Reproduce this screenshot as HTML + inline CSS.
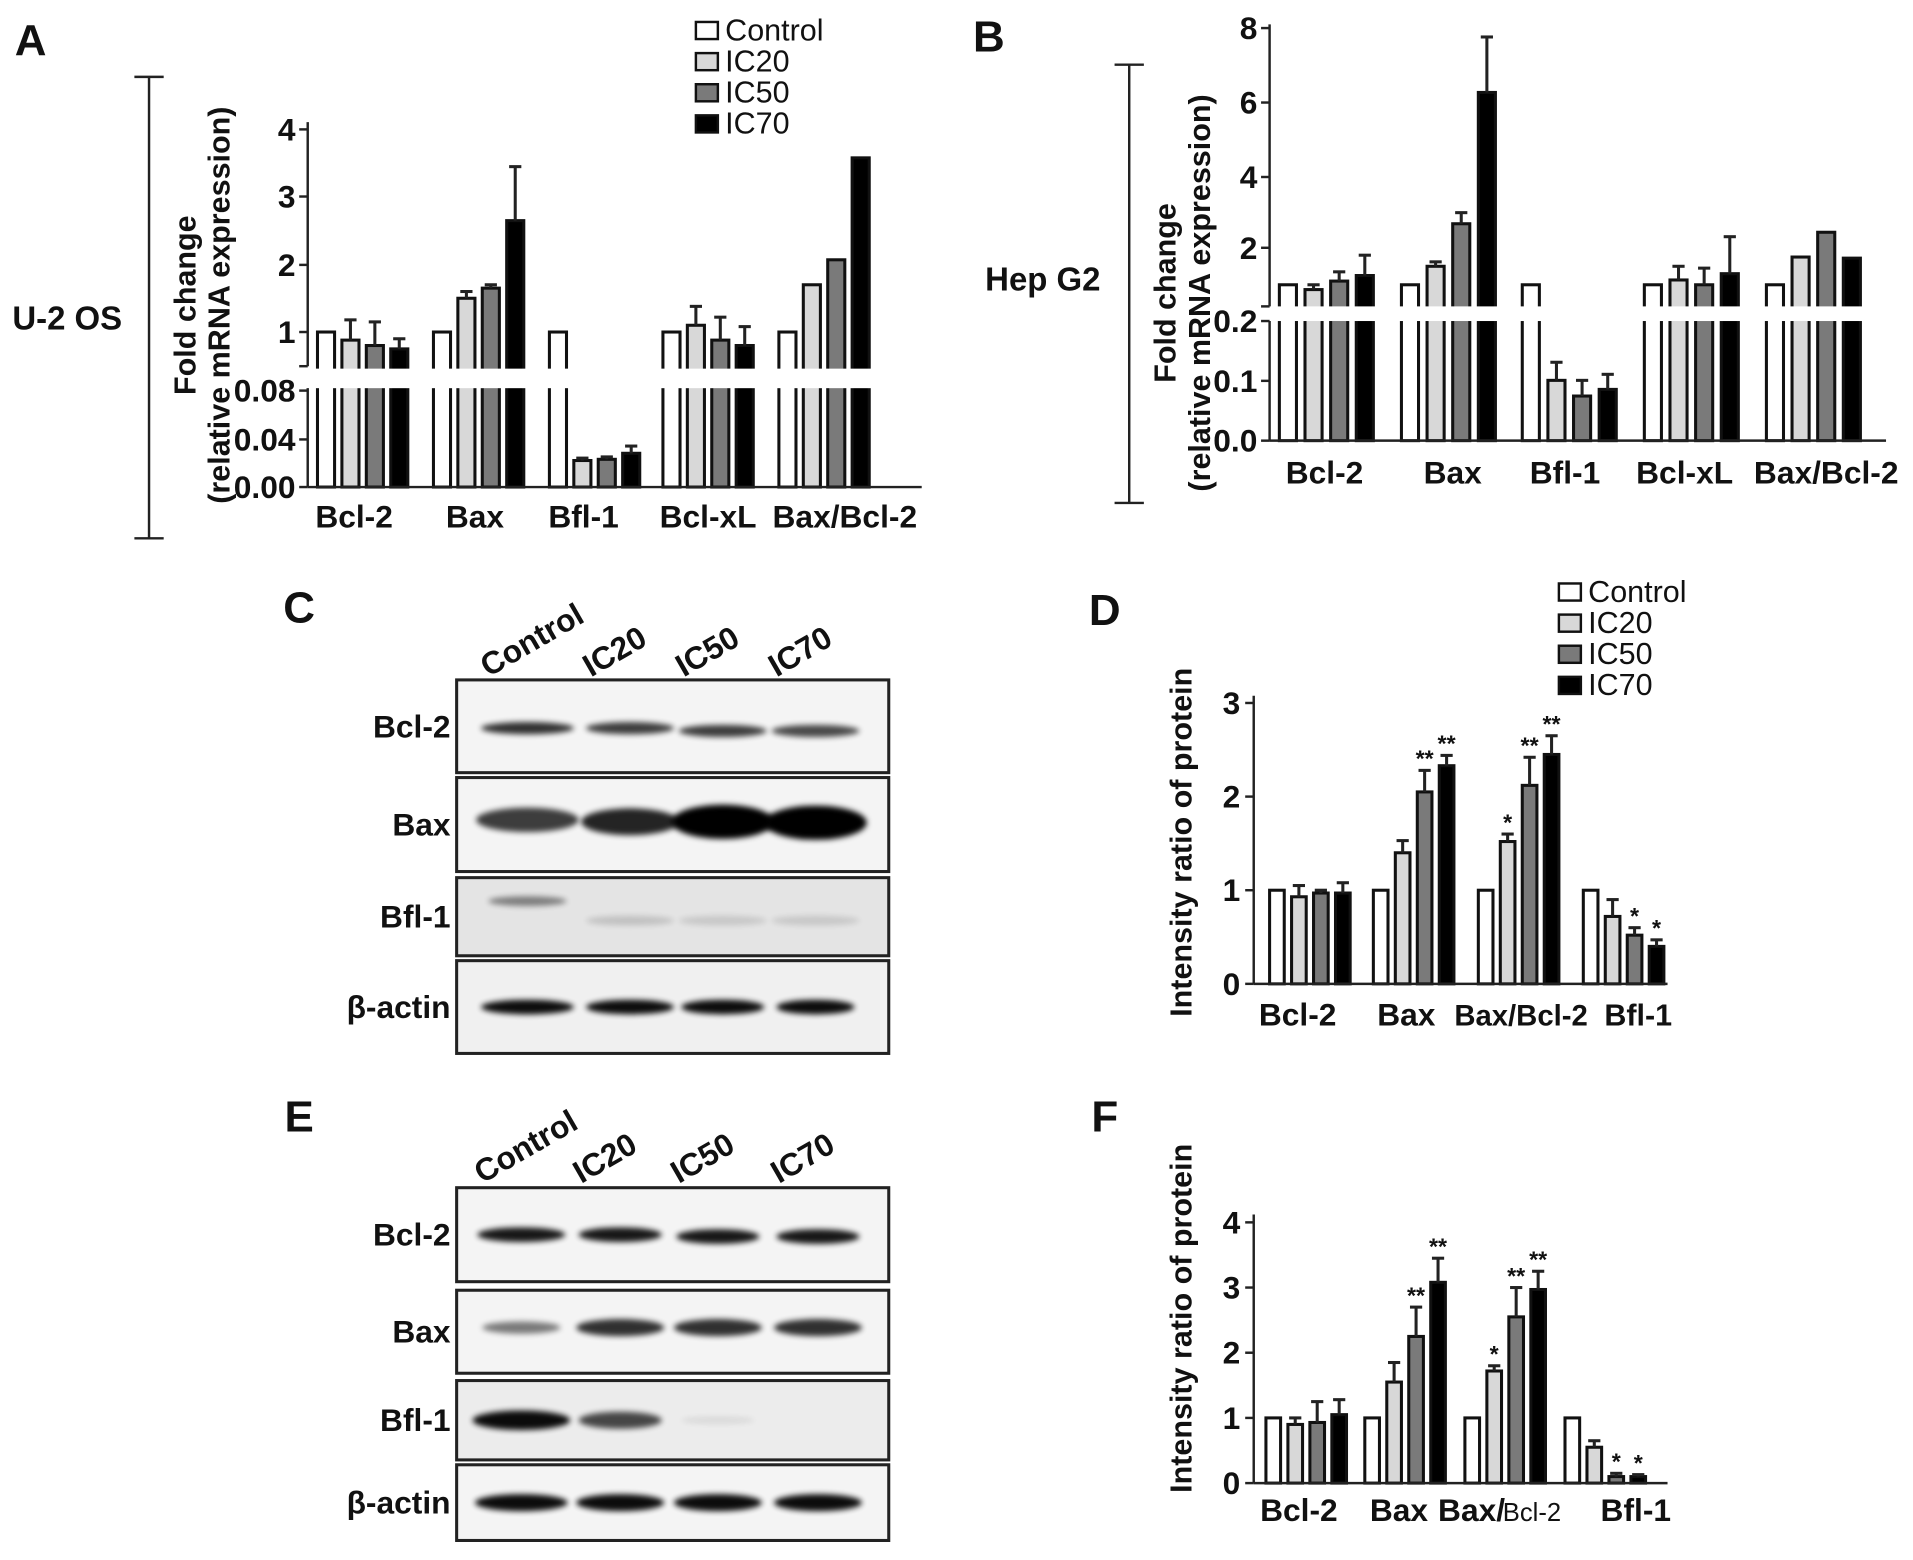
<!DOCTYPE html>
<html><head><meta charset="utf-8"><style>
html,body{margin:0;padding:0;background:#fff}
svg{display:block}
text{font-family:"Liberation Sans",Arial,sans-serif;font-weight:bold;fill:#111}
</style></head><body>
<svg id="s" xmlns="http://www.w3.org/2000/svg" width="1913" height="1560" viewBox="0 0 1567 1278">
<defs>
<filter id="bl" x="-30%" y="-150%" width="160%" height="400%"><feGaussianBlur stdDeviation="2.5"/></filter>
</defs>
</svg>
<script>
var S=document.getElementById('s'),NS='http://www.w3.org/2000/svg';
function el(t,a,txt,par){var e=document.createElementNS(NS,t);for(var k in a)e.setAttribute(k,a[k]);if(txt!==undefined&&txt!==null)e.textContent=txt;(par||S).appendChild(e);return e;}
function L(x1,y1,x2,y2,w){el('line',{x1:x1,y1:y1,x2:x2,y2:y2,stroke:'#222','stroke-width':w||2});}
function T(x,y,s,sz,anc,rot){var a={x:x,y:y,'font-size':sz,'text-anchor':anc||'middle'};if(rot)a.transform='rotate('+rot+' '+x+' '+y+')';el('text',a,s);}
var C=['#fff','#d8d8d8','#7a7a7a','#000'];
function bar(x,w,top,base,c,err,star){
 el('rect',{x:x,y:top,width:w,height:base-top,fill:C[c],stroke:'#111','stroke-width':2.5});
 if(err!=null&&err<top-1){L(x+w/2,top,x+w/2,err,2.5);L(x+w/2-5,err,x+w/2+5,err,2.5);}
 if(star)T(x+w/2,(err!=null?Math.min(err,top):top)-3,star,19);
}
function legend(x,y,dy){var n=['Control','IC20','IC50','IC70'];for(var i=0;i<4;i++){el('rect',{x:x,y:y+i*dy-12,width:18,height:14,fill:C[i],stroke:'#111','stroke-width':2});el('text',{x:x+24,y:y+i*dy+3,'font-size':25,style:'font-weight:normal'},n[i]);}}
// ---------- Panel A ----------
T(25,45,'A',36);T(10,270,'U-2 OS',27,'start');
L(122,63,122,441,2);L(110,63,134,63,2);L(110,441,134,441,2);
T(160,250,'Fold change',25,'middle',-90);T(188,250,'(relative mRNA expression)',25,'middle',-90);
legend(570,30,25.5);
(function(){
var yu=function(v){return 272-(v-1)*55.3},yl=function(v){return 399-v/0.08*79};
var g=[[260,[[1],[0.88,1.18],[0.8,1.15],[0.75,0.9]]],[355,[[1],[1.5,1.6],[1.65,1.7],[2.65,3.45]]],[450,[[1],[0.022,0.024,1],[0.023,0.025,1],[0.028,0.034,1]]],[543,[[1],[1.1,1.38],[0.88,1.22],[0.8,1.08]]],[638,[[1],[1.7],[2.07],[3.58]]]];
g.forEach(function(G){G[1].forEach(function(b,i){var lo=b[2];var top=lo?yl(b[0]):yu(b[0]);var e=b[1]!=null?(lo?yl(b[1]):yu(b[1])):null;bar(G[0]+i*20,14,top,399,i,e);});});
el('rect',{x:240,y:302,width:520,height:16,fill:'#fff'});
L(252,100,252,300);L(252,318,252,399);L(252,399,755,399);
[[1,272],[2,217],[3,161],[4,106]].forEach(function(t){L(245,t[1],252,t[1]);T(242,t[1]+9,t[0],26,'end');});
L(245,300,252,300);
[['0.08',320],['0.04',360],['0.00',399]].forEach(function(t){L(245,t[1],252,t[1]);T(242,t[1]+9,t[0],26,'end');});
[['Bcl-2',290],['Bax',389],['Bfl-1',478],['Bcl-xL',580],['Bax/Bcl-2',692]].forEach(function(t){T(t[1],432,t[0],26);});
})();
// ---------- Panel B ----------
T(810,42,'B',36);T(807,238,'Hep G2',27,'start');
L(925,53,925,412,2);L(913,53,937,53,2);L(913,412,937,412,2);
T(963,240,'Fold change',25,'middle',-90);T(991,240,'(relative mRNA expression)',25,'middle',-90);
(function(){
var yu=function(v){return 203-(v-2)*30.3},yl=function(v){return 361-v*494};
var g=[[1048,[[1],[0.87,1.0],[1.1,1.35],[1.25,1.8]]],[1148,[[1],[1.5,1.62],[2.65,2.95],[6.2,7.7]]],[1247,[[1],[0.1,0.13,1],[0.074,0.1,1],[0.085,0.11,1]]],[1347,[[1],[1.13,1.5],[1.0,1.45],[1.3,2.3]]],[1447,[[1],[1.75],[2.42],[1.72]]]];
g.forEach(function(G){G[1].forEach(function(b,i){var lo=b[2];var top=lo?yl(b[0]):yu(b[0]);var e=b[1]!=null?(lo?yl(b[1]):yu(b[1])):null;bar(G[0]+i*21,14,top,361,i,e);});});
el('rect',{x:1030,y:251,width:520,height:12,fill:'#fff'});
L(1040,20,1040,251);L(1040,263,1040,361);L(1040,361,1545,361);
[[8,23],[6,84],[4,145],[2,203]].forEach(function(t){L(1033,t[1],1040,t[1]);T(1030,t[1]+9,t[0],26,'end');});
L(1033,251,1040,251);
[['0.2',263],['0.1',312],['0.0',361]].forEach(function(t){L(1033,t[1],1040,t[1]);T(1030,t[1]+9,t[0],26,'end');});
[['Bcl-2',1085],['Bax',1190],['Bfl-1',1282],['Bcl-xL',1380],['Bax/Bcl-2',1496]].forEach(function(t){T(t[1],396,t[0],26);});
})();
// ---------- Blots ----------
var cid=0;
function blot(rows,lanes,title,tx,ty,ly){
 T(tx,ty,title,36);
 ['Control','IC20','IC50','IC70'].forEach(function(s,i){T(lanes[i]-32,ly,s,26,'start',-30);});
 rows.forEach(function(r){
  cid++;var cp=el('clipPath',{id:'c'+cid});el('rect',{x:375,y:r[1]+1,width:352,height:r[2]-r[1]-2},null,cp);
  el('rect',{x:374,y:r[1],width:354,height:r[2]-r[1],fill:r[4]||'#f4f4f4'});
  var g=el('g',{'clip-path':'url(#c'+cid+')'});
  r[3].forEach(function(b,i){if(b[0]>0)el('ellipse',{cx:lanes[i],cy:r[1]+(r[2]-r[1])*(b[2]||0.5),rx:b[1]||36,ry:b[0],fill:'#000',opacity:b[3]||0.85,filter:'url(#bl)'},null,g);});
  el('rect',{x:374,y:r[1],width:354,height:r[2]-r[1],fill:'none',stroke:'#222','stroke-width':2.5});
  T(369,(r[1]+r[2])/2+9,r[0],26,'end');
 });
}
var lnC=[432,516,592,668],lnE=[427,508,588,670];
blot([['Bcl-2',557,633,[[5,38,0.52,0.8],[5,36,0.52,0.75],[5,36,0.55,0.75],[5,36,0.55,0.7]]],
 ['Bax',637,714,[[10,42,0.45,0.75],[11,40,0.47,0.85],[14,42,0.47,1],[14,42,0.48,1]]],
 ['Bfl-1',719,783,[[4,32,0.3,0.45],[4,36,0.55,0.15],[4,36,0.55,0.12],[4,36,0.55,0.12]],'#e4e4e4'],
 ['β-actin',787,863,[[6,38,0.5,0.95],[6,36,0.5,0.95],[6,34,0.5,0.95],[6,32,0.5,0.95]],'#f0f0f0']],lnC,'C',245,510,555);
blot([['Bcl-2',973,1050,[[6,36,0.5,0.9],[6,34,0.5,0.9],[6,34,0.52,0.9],[6,34,0.52,0.9]]],
 ['Bax',1057,1125,[[5,32,0.45,0.5],[7,36,0.45,0.8],[7,36,0.45,0.8],[7,36,0.45,0.8]]],
 ['Bfl-1',1131,1196,[[8,40,0.5,0.95],[7,34,0.5,0.7],[3,30,0.5,0.08],[0]],'#ececec'],
 ['β-actin',1200,1262,[[7,38,0.5,0.95],[7,36,0.5,0.95],[7,36,0.5,0.95],[7,36,0.5,0.95]]]],lnE,'E',245,927,970);
// ---------- Panel D ----------
T(905,512,'D',36);
legend(1277,490,25.5);
T(976,690,'Intensity ratio of protein',25,'middle',-90);
(function(){var y=function(v){return 806-v*76.7};
var g=[[1040,[[1],[0.93,1.05],[0.97,1],[0.97,1.08]]],[1125,[[1],[1.4,1.53],[2.05,2.28,'**'],[2.33,2.44,'**']]],[1211,[[1],[1.52,1.6,'*'],[2.12,2.42,'**'],[2.45,2.65,'**']]],[1297,[[1],[0.72,0.9],[0.52,0.6,'*'],[0.4,0.47,'*']]]];
g.forEach(function(G){G[1].forEach(function(b,i){bar(G[0]+i*18,12,y(b[0]),806,i,b[1]!=null?y(b[1]):null,b[2]);});});
L(1027,570,1027,806);L(1027,806,1366,806);
[0,1,2,3].forEach(function(v){L(1020,y(v),1027,y(v));T(1016,y(v)+9,v,26,'end');});
[['Bcl-2',1063,26],['Bax',1152,26],['Bax/Bcl-2',1246,24],['Bfl-1',1342,25]].forEach(function(t){T(t[1],840,t[0],t[2]);});
})();
// ---------- Panel F ----------
T(905,927,'F',36);
T(976,1080,'Intensity ratio of protein',25,'middle',-90);
(function(){var y=function(v){return 1215-v*53.4};
var g=[[1037,[[1],[0.9,1],[0.93,1.25],[1.05,1.28]]],[1118,[[1],[1.55,1.85],[2.25,2.7,'**'],[3.08,3.45,'**']]],[1200,[[1],[1.72,1.8,'*'],[2.55,3.0,'**'],[2.97,3.25,'**']]],[1282,[[1],[0.55,0.65],[0.1,0.15,'*'],[0.1,0.13,'*']]]];
g.forEach(function(G){G[1].forEach(function(b,i){bar(G[0]+i*18,12,y(b[0]),1215,i,b[1]!=null?y(b[1]):null,b[2]);});});
L(1027,995,1027,1215);L(1027,1215,1366,1215);
[0,1,2,3,4].forEach(function(v){L(1020,y(v),1027,y(v));T(1016,y(v)+9,v,26,'end');});
[['Bcl-2',1064],['Bax',1146],['Bfl-1',1340]].forEach(function(t){T(t[1],1246,t[0],26);});
el('text',{x:1178,y:1246,'font-size':26,'text-anchor':'start'},'Bax/');
el('text',{x:1231,y:1246,'font-size':21,'text-anchor':'start',style:'font-weight:normal'},'Bcl-2');
})();
</script>
</body></html>
